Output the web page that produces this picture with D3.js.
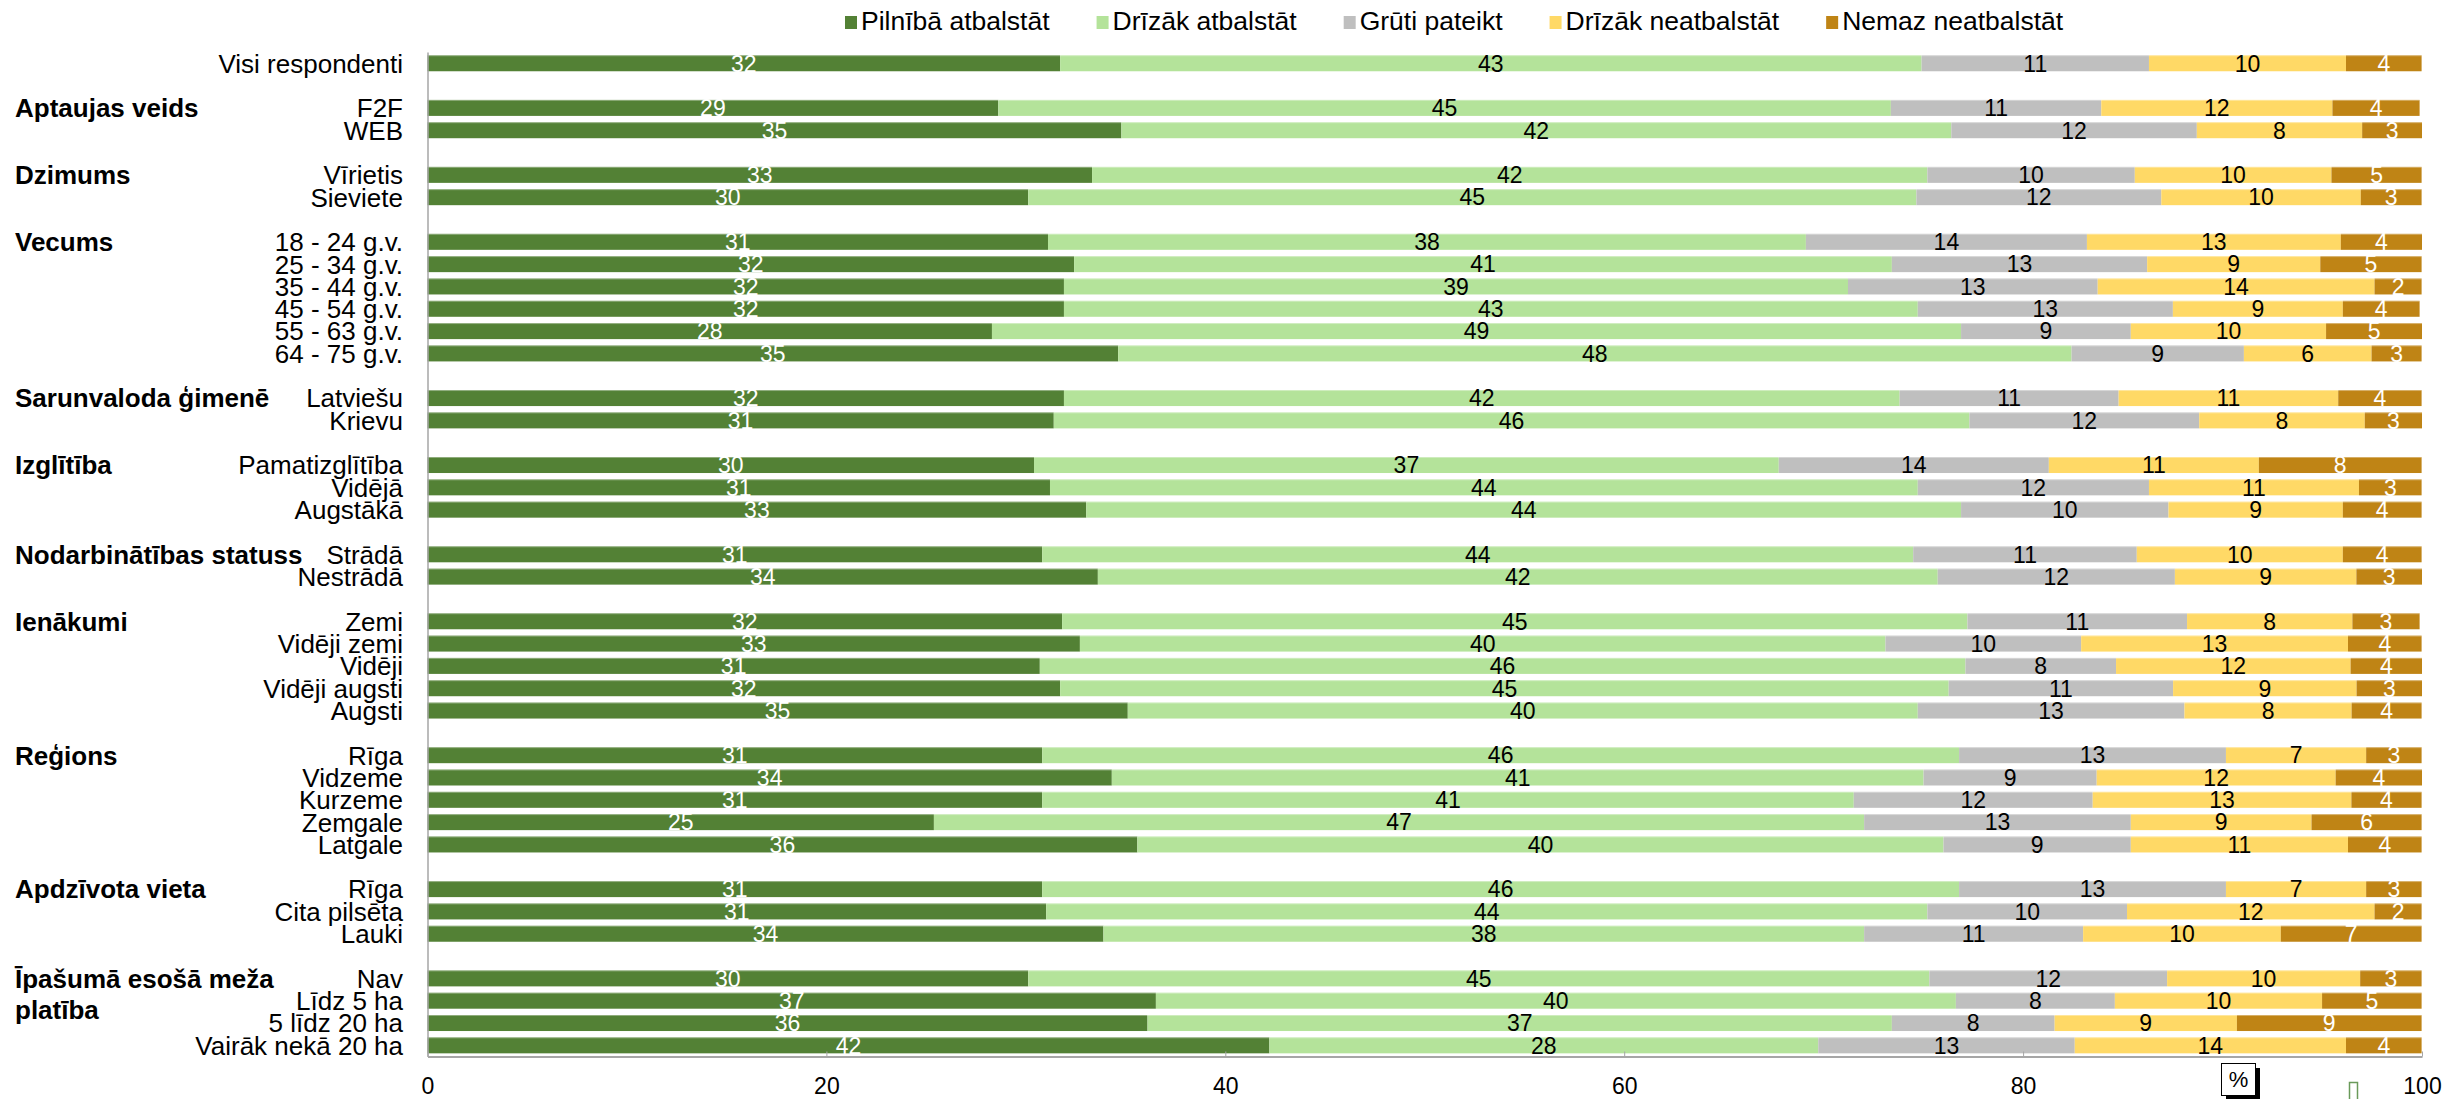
<!DOCTYPE html>
<html>
<head>
<meta charset="utf-8">
<script src="https://cdn.jsdelivr.net/npm/d3@7"></script>
<style>
  html, body { margin: 0; padding: 0; background: #fff; }
  svg { display: block; font-family: "Liberation Sans", Arial, sans-serif; }
</style>
</head>
<body>
<svg id="chart" width="2443" height="1099"></svg>
<script>
// ---------------- DATA ----------------
const seriesNames = ["Pilnībā atbalstāt", "Drīzāk atbalstāt", "Grūti pateikt", "Drīzāk neatbalstāt", "Nemaz neatbalstāt"];

const groups = ["", "Aptaujas veids", "Dzimums", "Vecums", "Sarunvaloda ģimenē", "Izglītība",
  "Nodarbinātības statuss", "Ienākumi", "Reģions", "Apdzīvota vieta", "Īpašumā esošā meža platība"];

const categories = ["Visi respondenti", "F2F", "WEB", "Vīrietis", "Sieviete",
  "18 - 24 g.v.", "25 - 34 g.v.", "35 - 44 g.v.", "45 - 54 g.v.", "55 - 63 g.v.", "64 - 75 g.v.",
  "Latviešu", "Krievu", "Pamatizglītība", "Vidējā", "Augstākā", "Strādā", "Nestrādā",
  "Zemi", "Vidēji zemi", "Vidēji", "Vidēji augsti", "Augsti",
  "Rīga", "Vidzeme", "Kurzeme", "Zemgale", "Latgale",
  "Rīga", "Cita pilsēta", "Lauki",
  "Nav", "Līdz 5 ha", "5 līdz 20 ha", "Vairāk nekā 20 ha"];

const categoryGroup = [0, 1, 1, 2, 2, 3, 3, 3, 3, 3, 3, 4, 4, 5, 5, 5, 6, 6,
  7, 7, 7, 7, 7, 8, 8, 8, 8, 8, 9, 9, 9, 10, 10, 10, 10];

const pilnibaAtbalstat = [31.72, 28.62, 34.79, 33.32, 30.12, 31.11, 32.42, 31.91, 31.91, 28.30, 34.63,
  31.91, 31.40, 30.41, 31.21, 33.03, 30.82, 33.61, 31.82, 32.71, 30.70, 31.72, 35.11,
  30.82, 34.31, 30.82, 25.39, 35.59, 30.82, 31.02, 33.89, 30.12, 36.52, 36.10, 42.21];
const drizakAtbalstat = [43.19, 44.75, 41.61, 41.88, 44.53, 38.00, 41.00, 39.31, 42.81, 48.59, 47.80,
  41.90, 45.91, 37.34, 43.51, 43.86, 43.67, 42.11, 45.39, 40.39, 46.41, 44.55, 39.61,
  45.97, 40.70, 40.69, 46.64, 40.42, 45.97, 44.18, 38.14, 45.18, 40.11, 37.32, 27.52];
const grutiPateikt = [11.40, 10.55, 12.31, 10.40, 12.28, 14.09, 12.80, 12.52, 12.79, 8.51, 8.64,
  10.98, 11.52, 13.54, 11.59, 10.40, 11.21, 11.89, 11.01, 9.81, 7.55, 11.25, 13.37,
  13.38, 8.68, 11.98, 13.37, 9.39, 13.38, 10.01, 10.98, 11.92, 7.97, 8.16, 12.86];
const drizakNeatbalstat = [9.88, 11.59, 8.29, 9.86, 10.00, 12.73, 8.68, 13.88, 8.52, 9.79, 6.40,
  11.01, 8.30, 10.53, 10.53, 8.74, 10.33, 9.10, 8.29, 13.38, 11.76, 9.20, 8.38,
  7.03, 11.98, 12.97, 9.06, 10.89, 7.03, 12.41, 9.91, 9.68, 10.39, 9.14, 13.60];
const nemazNeatbalstat = [3.79, 4.37, 3.00, 4.52, 3.05, 4.07, 5.08, 2.36, 3.85, 4.81, 2.51,
  4.18, 2.87, 8.16, 3.14, 3.95, 3.95, 3.29, 3.37, 3.69, 3.58, 3.28, 3.51,
  2.78, 4.33, 3.52, 5.52, 3.69, 2.78, 2.36, 7.06, 3.08, 4.99, 9.26, 3.79];

const xTicks = [0, 20, 40, 60, 80, 100];
const axisUnit = "%";

// ---------------- STYLE ----------------
const colors = ["#538135", "#B4E39A", "#BFBFBF", "#FFD966", "#BF8415"];
const labelColors = ["#ffffff", "#000000", "#000000", "#000000", "#ffffff"];

// ---------------- BUILD ----------------
const seriesValues = [pilnibaAtbalstat, drizakAtbalstat, grutiPateikt, drizakNeatbalstat, nemazNeatbalstat];
const rows = categories.map((c, i) => {
  const r = { idx: i, name: c, group: categoryGroup[i], slot: i + categoryGroup[i] };
  seriesNames.forEach((s, k) => r[s] = seriesValues[k][i]);
  return r;
});
const nSlots = rows[rows.length - 1].slot + 1;

const svg = d3.select("#chart");
svg.append("rect").attr("width", 2443).attr("height", 1099).attr("fill", "#fff");

const x = d3.scaleLinear().domain([0, 100]).range([427.5, 2422]);
const y = d3.scaleBand().domain(d3.range(nSlots)).range([52.1, 1056.5])
  .paddingInner(0.283).paddingOuter(0.1415);

const stack = d3.stack().keys(seriesNames);
const stacked = stack(rows);

const fmt = v => String(Math.round(v));

const layers = svg.append("g").selectAll("g").data(stacked).join("g")
  .attr("fill", (d, i) => colors[i]);

layers.selectAll("rect").data(d => d).join("rect")
  .attr("x", d => x(d[0]))
  .attr("y", d => y(d.data.slot))
  .attr("width", d => x(d[1]) - x(d[0]))
  .attr("height", y.bandwidth());

// light top edge of each bar row
svg.append("g").selectAll("line").data(rows).join("line")
  .attr("x1", x(0)).attr("x2", d => x(seriesNames.reduce((s, k) => s + d[k], 0)))
  .attr("y1", d => y(d.slot) + 0.5).attr("y2", d => y(d.slot) + 0.5)
  .attr("stroke", "#ffffff").attr("stroke-opacity", 0.35).attr("stroke-width", 1);

// data labels
const labelLayers = svg.append("g").selectAll("g").data(stacked).join("g")
  .attr("fill", (d, i) => labelColors[i]);
labelLayers.selectAll("text").data(d => d).join("text")
  .attr("x", d => (x(d[0]) + x(d[1])) / 2)
  .attr("y", d => y(d.data.slot) + y.bandwidth() / 2)
  .attr("dy", "0.36em")
  .attr("text-anchor", "middle")
  .attr("font-size", 23)
  .text(d => fmt(d[1] - d[0]));

// axes
const xAxis = d3.axisBottom(x).tickValues(xTicks).tickSize(-5).tickSizeOuter(0).tickPadding(21);
const gx = svg.append("g").attr("transform", `translate(0,${y.range()[1]})`).call(xAxis);
gx.select(".domain").attr("stroke", "#A6A6A6").attr("stroke-width", 2);
gx.selectAll(".tick line").attr("stroke", "#A6A6A6");
gx.selectAll(".tick text").attr("font-size", 23).attr("fill", "#000")
  .attr("font-family", "'Liberation Sans', Arial, sans-serif");

const yAxis = d3.axisLeft(y).tickValues([]).tickSizeOuter(0);
const gy = svg.append("g").attr("transform", `translate(${x(0)},0)`).call(yAxis);
gy.select(".domain").attr("stroke", "#A6A6A6").attr("stroke-width", 1.5);

// category labels
svg.append("g").selectAll("text").data(rows).join("text")
  .attr("x", 403)
  .attr("y", d => y(d.slot) + y.bandwidth() / 2)
  .attr("dy", "0.36em")
  .attr("text-anchor", "end")
  .attr("font-size", 26)
  .attr("fill", "#000")
  .text(d => d.name);

// group labels (bold) aligned with the first row of each group
const groupFirst = groups.map((g, gi) => ({ name: g, row: rows.find(r => r.group === gi) }))
  .filter(d => d.name);
const gl = svg.append("g").selectAll("text").data(groupFirst).join("text")
  .attr("x", 15)
  .attr("y", d => y(d.row.slot) + y.bandwidth() / 2)
  .attr("dy", "0.36em")
  .attr("font-size", 26)
  .attr("font-weight", "bold")
  .attr("fill", "#000");
gl.each(function (d) {
  const t = d3.select(this);
  if (d.name.length > 22) {
    const words = d.name.split(" ");
    const first = words.slice(0, words.length - 1).join(" ");
    const last = words[words.length - 1];
    t.append("tspan").attr("x", 15).text(first);
    t.append("tspan").attr("x", 15).attr("dy", "1.22em").text(last);
  } else {
    t.text(d.name);
  }
});

// legend
const legend = svg.append("g");
let lx = 845;
seriesNames.forEach((s, i) => {
  const item = legend.append("g");
  item.append("rect").attr("x", lx).attr("y", 16).attr("width", 12).attr("height", 13).attr("fill", colors[i]);
  const t = item.append("text").attr("x", lx + 16).attr("y", 30).attr("font-size", 26.5).attr("fill", "#000").text(s);
  lx += 16 + t.node().getComputedTextLength() + 47;
});

// unit box "%"
const ub = svg.append("g");
ub.append("rect").attr("x", 2226).attr("y", 1068).attr("width", 34).attr("height", 32).attr("fill", "#000");
ub.append("rect").attr("x", 2221.5).attr("y", 1063.5).attr("width", 34).attr("height", 32)
  .attr("fill", "#fff").attr("stroke", "#000").attr("stroke-width", 1);
ub.append("text").attr("x", 2238.5).attr("y", 1087).attr("text-anchor", "middle")
  .attr("font-size", 22).attr("fill", "#000").text(axisUnit);

// small stray marker near the axis end
svg.append("rect").attr("x", 2349.5).attr("y", 1082.5).attr("width", 8).attr("height", 20)
  .attr("fill", "#fff").attr("stroke", "#6A9A5A").attr("stroke-width", 1.5);
</script>
</body>
</html>
